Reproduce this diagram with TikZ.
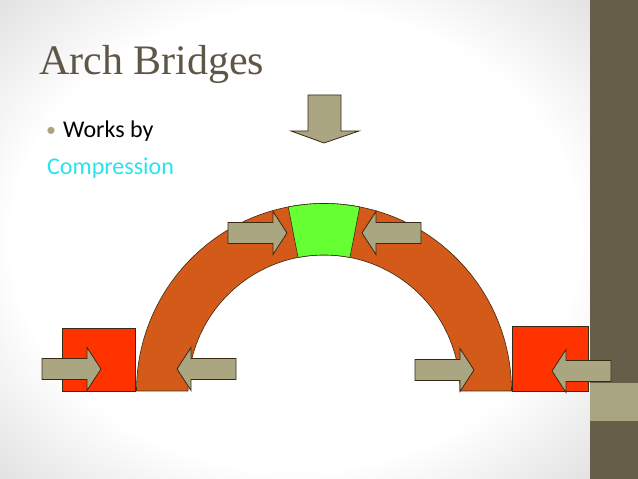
\documentclass[tikz,border=0pt]{standalone}
\usepackage{fontspec}
\setmainfont{Liberation Serif}
\newfontfamily\bodyfont{Carlito}
\usepackage{xcolor}
\usepackage{tikz}
\usetikzlibrary{positioning}

\definecolor{bardark}{RGB}{103,94,74}
\definecolor{barlight}{RGB}{169,165,130}
\definecolor{titlegray}{RGB}{94,86,70}
\definecolor{pushtan}{RGB}{171,166,130}
\definecolor{edgebrown}{RGB}{58,42,20}
\definecolor{archorange}{RGB}{211,90,24}
\definecolor{abutred}{RGB}{255,51,0}
\definecolor{keygreen}{RGB}{102,255,51}
\definecolor{compcyan}{RGB}{40,228,240}

\pgfdeclareradialshading{slideglow}{\pgfpoint{0bp}{0bp}}{color(0bp)=(white); color(24bp)=(white); color(36bp)=(black!12); color(50bp)=(black!14)}

\tikzset{
  pushbox/.style={draw=edgebrown, fill=pushtan, line width=0.8pt, line join=miter},
  archbox/.style={draw=edgebrown, fill=archorange, line width=0.6pt},
  pics/pusharrow/.style={code={
    \draw[pushbox] (0,0) -- (-14,21.5) -- (-14,10.5) -- (-59,10.5)
      -- (-59,-10.5) -- (-14,-10.5) -- (-14,-21.5) -- cycle;
  }}
}

\begin{document}
\begin{tikzpicture}[x=1pt, y=1pt]
    \useasboundingbox (0,0) rectangle (638,479);
    % slide background and side bar
    \shade[shading=slideglow] (0,0) rectangle (590,479);
    \fill[bardark] (590,0) rectangle (638,479);
    \fill[barlight] (590,58) rectangle (638,96);

    % texts
    \node[anchor=base west, inner sep=0, text=titlegray, font=\fontsize{42}{48}\selectfont] (title) at (39,404) {Arch Bridges};
    \node[anchor=base west, inner sep=0, text=barlight, font=\bodyfont\fontsize{20}{24}\selectfont] (dot) at (46,342) {•};
    \node[anchor=base west, inner sep=0, font=\bodyfont\fontsize{24}{29}\selectfont] (works) at (63,341) {Works by};
    \node[anchor=base west, inner sep=0, text=compcyan, font=\bodyfont\fontsize{24}{29}\selectfont] (comp) at (47,304) {Compression};

    % abutments
    \draw[archbox, fill=abutred] (62,88) rectangle (135,151);
    \draw[archbox, fill=abutred] (512,88) rectangle (588,153);

    % arch and keystone
    \coordinate (c) at (324,88);
    \draw[archbox] (136.5,88) arc[start angle=180, end angle=0, radius=187.5]
      -- (460,88) arc[start angle=0, end angle=180, radius=136] -- cycle;
    \draw[archbox, fill=keygreen] ([shift={(79:187.5)}]c) arc[start angle=79, end angle=101, radius=187.5]
      -- ([shift={(101:136)}]c) arc[start angle=101, end angle=79, radius=136] -- cycle;

    % load from above
    \draw[pushbox] (324,336) -- (291,348) -- (308,348) -- (308,384)
      -- (341,384) -- (341,348) -- (359,348) -- cycle;

    % pushing arrows
    \pic (pushA) at (101,110) {pusharrow};
    \pic[rotate=180] (pushB) at (177,110) {pusharrow};
    \pic (pushC) at (474,109) {pusharrow};
    \pic[rotate=180] (pushD) at (552,108) {pusharrow};
    \pic (pushE) at (287,246) {pusharrow};
    \pic[rotate=180] (pushF) at (362,246) {pusharrow};
\end{tikzpicture}
\end{document}
